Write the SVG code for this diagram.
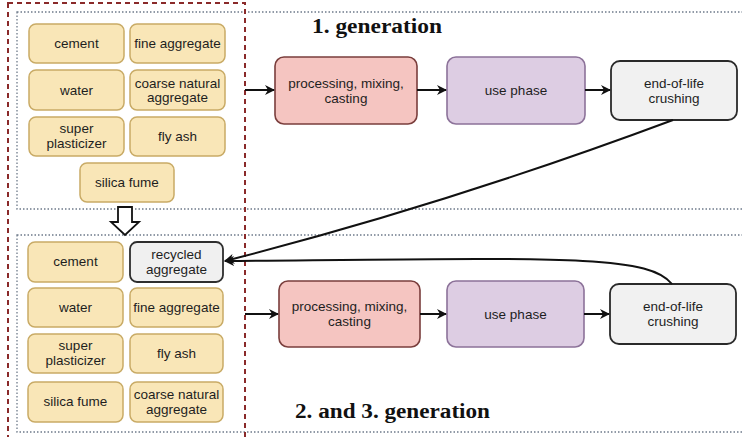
<svg xmlns="http://www.w3.org/2000/svg" width="742" height="437" viewBox="0 0 742 437">
<defs>
<style>
.ing{fill:#f9e6b7;stroke:#c9ab66;stroke-width:1.5}
.rec{fill:#f0f0f0;stroke:#2e2e2e;stroke-width:1.8}
.proc{fill:#f5c5c1;stroke:#7a3e3c;stroke-width:1.6}
.use{fill:#ddcde3;stroke:#8c7299;stroke-width:1.6}
.eol{fill:#f1f1f1;stroke:#2a2a2a;stroke-width:1.8}
.t{font-family:"Liberation Sans",Arial,sans-serif;font-size:13.5px;fill:#1e1e1e;text-anchor:middle}
.title{font-family:"Liberation Serif","Times New Roman",serif;font-weight:bold;font-size:20px;fill:#111}
.dot{fill:none;stroke:#6e7a8a;stroke-width:1.3;stroke-dasharray:1.5 2}
.red{fill:none;stroke:#8a2a2a;stroke-width:2;stroke-dasharray:5 4}
.c{fill:none;stroke:#111;stroke-width:2}
</style>
<marker id="ah" viewBox="0 0 10 10" refX="9" refY="5" markerWidth="10" markerHeight="10" markerUnits="userSpaceOnUse" orient="auto">
<path d="M0,0 L10,5 L0,10 L3,5 Z" fill="#111"/>
</marker>
</defs>
<rect width="742" height="437" fill="#fff"/>
<g id="frames">
<rect class="dot" x="17" y="12" width="740" height="197"/>
<rect class="dot" x="17" y="235" width="740" height="197"/>
<rect class="red" x="8" y="3" width="237" height="445"/>
</g>
<g id="title1"><text class="title" x="312" y="33" textLength="130" lengthAdjust="spacingAndGlyphs">1. generation</text></g>
<g id="title2"><text class="title" x="295" y="418" textLength="195" lengthAdjust="spacingAndGlyphs">2. and 3. generation</text></g>

<g id="g1-cement"><rect class="ing" x="29" y="24" width="95" height="39" rx="7"/><text class="t" x="76.5" y="48">cement</text></g>
<g id="g1-fine"><rect class="ing" x="130" y="24" width="95" height="39" rx="7"/><text class="t" x="177.5" y="48">fine aggregate</text></g>
<g id="g1-water"><rect class="ing" x="29" y="70" width="95" height="40" rx="7"/><text class="t" x="76.5" y="95">water</text></g>
<g id="g1-coarse"><rect class="ing" x="130" y="70" width="95" height="40" rx="7"/><text class="t" x="177.5" y="88">coarse natural</text><text class="t" x="177.5" y="102">aggregate</text></g>
<g id="g1-super"><rect class="ing" x="29" y="117" width="95" height="39" rx="7"/><text class="t" x="76.5" y="133">super</text><text class="t" x="76.5" y="148">plasticizer</text></g>
<g id="g1-flyash"><rect class="ing" x="130" y="117" width="95" height="39" rx="7"/><text class="t" x="177.5" y="141">fly ash</text></g>
<g id="g1-silica"><rect class="ing" x="80" y="163" width="94" height="39" rx="7"/><text class="t" x="127" y="187">silica fume</text></g>

<g id="down-arrow"><path d="M118,207 L132,207 L132,222 L139,222 L125,235 L111,222 L118,222 Z" fill="#fff" stroke="#111" stroke-width="1.8"/></g>

<g id="g2-cement"><rect class="ing" x="28" y="242" width="95" height="40" rx="7"/><text class="t" x="75.5" y="266">cement</text></g>
<g id="g2-recycled"><rect class="rec" x="130" y="242" width="93" height="40" rx="7"/><text class="t" x="176.5" y="259">recycled</text><text class="t" x="176.5" y="274">aggregate</text></g>
<g id="g2-water"><rect class="ing" x="28" y="288" width="95" height="39" rx="7"/><text class="t" x="75.5" y="312">water</text></g>
<g id="g2-fine"><rect class="ing" x="130" y="288" width="93" height="39" rx="7"/><text class="t" x="176.5" y="312">fine aggregate</text></g>
<g id="g2-super"><rect class="ing" x="28" y="334" width="95" height="39" rx="7"/><text class="t" x="75.5" y="350">super</text><text class="t" x="75.5" y="365">plasticizer</text></g>
<g id="g2-flyash"><rect class="ing" x="130" y="334" width="93" height="39" rx="7"/><text class="t" x="176.5" y="358">fly ash</text></g>
<g id="g2-silica"><rect class="ing" x="28" y="382" width="95" height="40" rx="7"/><text class="t" x="75.5" y="406">silica fume</text></g>
<g id="g2-coarse"><rect class="ing" x="130" y="382" width="93" height="40" rx="7"/><text class="t" x="176.5" y="399">coarse natural</text><text class="t" x="176.5" y="414">aggregate</text></g>

<g id="p1-proc"><rect class="proc" x="275" y="57" width="142" height="67" rx="9"/><text class="t" x="346" y="88">processing, mixing,</text><text class="t" x="346" y="103">casting</text></g>
<g id="p1-use"><rect class="use" x="447" y="57" width="138" height="67" rx="9"/><text class="t" x="516" y="95">use phase</text></g>
<g id="p1-eol"><rect class="eol" x="611" y="61" width="126" height="59" rx="9"/><text class="t" x="674" y="88">end-of-life</text><text class="t" x="674" y="103">crushing</text></g>

<g id="p2-proc"><rect class="proc" x="279" y="281" width="141" height="66" rx="9"/><text class="t" x="349.5" y="311">processing, mixing,</text><text class="t" x="349.5" y="326">casting</text></g>
<g id="p2-use"><rect class="use" x="447" y="281" width="137" height="66" rx="9"/><text class="t" x="515.5" y="319">use phase</text></g>
<g id="p2-eol"><rect class="eol" x="610" y="284" width="126" height="60" rx="9"/><text class="t" x="673" y="311">end-of-life</text><text class="t" x="673" y="326">crushing</text></g>

<g id="connectors">
<path class="c" d="M245,90 L274,90" marker-end="url(#ah)"/>
<path class="c" d="M417,90 L446,90" marker-end="url(#ah)"/>
<path class="c" d="M585,90 L610,90" marker-end="url(#ah)"/>
<path class="c" d="M245,314 L278,314" marker-end="url(#ah)"/>
<path class="c" d="M420,314 L446,314" marker-end="url(#ah)"/>
<path class="c" d="M584,314 L609,314" marker-end="url(#ah)"/>
<path class="c" d="M673,120 Q 445,205 225,261" marker-end="url(#ah)"/>
<path class="c" d="M672,284 C 648,254 560,258 225,261" marker-end="url(#ah)"/>
</g>
</svg>
